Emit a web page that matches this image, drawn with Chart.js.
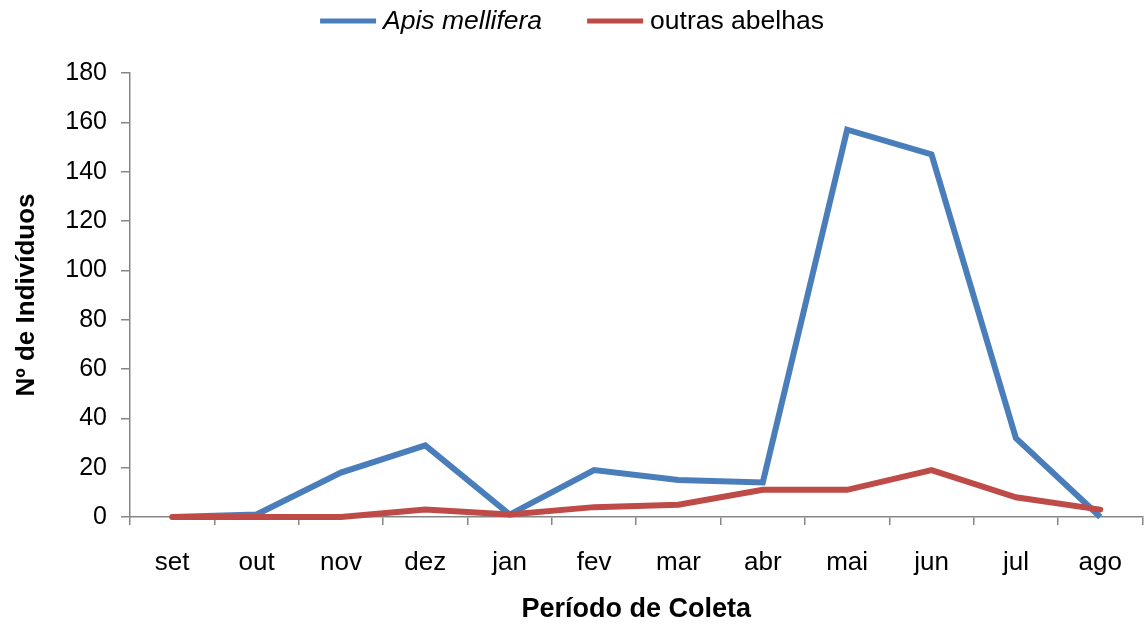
<!DOCTYPE html>
<html>
<head>
<meta charset="utf-8">
<script src="https://cdn.jsdelivr.net/npm/chart.js@4"></script>
<style>
  html, body { margin: 0; padding: 0; background: #fff; }
  #wrap { width: 1144px; height: 626px; }
</style>
</head>
<body>
<div id="wrap"><canvas id="bees-chart" width="1144" height="626"></canvas></div>
<script>
var months = ["set", "out", "nov", "dez", "jan", "fev", "mar", "abr", "mai", "jun", "jul", "ago"];
var apisMellifera = [0, 1, 18, 29, 1, 19, 15, 14, 157, 147, 32, 0];
var outrasAbelhas = [0, 0, 0, 3, 1, 4, 5, 11, 11, 19, 8, 3];
var yTicks = [0, 20, 40, 60, 80, 100, 120, 140, 160, 180];

var FONT = "'Liberation Sans', Arial, sans-serif";
var AXIS_GRAY = "#868686";

// legend drawn by hand so the first label can be italic
var legendPlugin = {
  id: "topLegend",
  afterDraw: function (chart) {
    var c = chart.ctx;
    var items = chart.data.datasets.map(function (ds, i) {
      return { text: ds.label, color: ds.borderColor, italic: i === 0 };
    });
    var lineLen = 56, gap = 7, itemGap = 45, y = 21;
    var total = 0;
    items.forEach(function (it, i) {
      c.font = (it.italic ? "italic " : "") + "26.5px " + FONT;
      it.w = c.measureText(it.text).width;
      total += lineLen + gap + it.w + (i > 0 ? itemGap : 0);
    });
    var x = (chart.width - total) / 2;
    c.save();
    c.textBaseline = "middle";
    items.forEach(function (it) {
      c.strokeStyle = it.color;
      c.lineWidth = 5;
      c.beginPath();
      c.moveTo(x, y);
      c.lineTo(x + lineLen, y);
      c.stroke();
      x += lineLen + gap;
      c.font = (it.italic ? "italic " : "") + "26.5px " + FONT;
      c.fillStyle = "#000";
      c.fillText(it.text, x, y + 1);
      x += it.w + itemGap;
    });
    c.restore();
  },
};

var ctx = document.getElementById("bees-chart").getContext("2d");
new Chart(ctx, {
  type: "line",
  data: {
    labels: months,
    datasets: [
      {
        label: "Apis mellifera",
        data: apisMellifera,
        borderColor: "#4A7EBB",
        borderWidth: 6,
        pointRadius: 0,
        tension: 0,
        clip: false,
        order: 1,
      },
      {
        label: "outras abelhas",
        data: outrasAbelhas,
        borderColor: "#BE4B48",
        borderWidth: 6,
        pointRadius: 0,
        tension: 0,
        clip: false,
        borderCapStyle: "round",
        order: 0,
      },
    ],
  },
  options: {
    responsive: false,
    animation: false,
    layout: { padding: { top: 73, right: 1, left: 0, bottom: 0 } },
    plugins: {
      legend: { display: false },
      tooltip: { enabled: false },
    },
    scales: {
      x: {
        type: "category",
        offset: true,
        grid: { offset: true, drawOnChartArea: false, color: AXIS_GRAY, tickLength: 8, lineWidth: 1.5 },
        border: { color: AXIS_GRAY, width: 1.5 },
        ticks: { color: "#000", font: { family: FONT, size: 26 }, padding: 22, maxRotation: 0, autoSkip: false },
        title: {
          display: true,
          text: "Período de Coleta",
          color: "#000",
          font: { family: FONT, size: 27, weight: "bold" },
          padding: { top: 0, bottom: 0 },
        },
        afterFit: function (scale) { scale.height = 109; },
      },
      y: {
        min: 0,
        max: 180,
        afterBuildTicks: function (scale) {
          scale.ticks = yTicks.map(function (v) { return { value: v }; });
        },
        grid: { drawOnChartArea: false, color: AXIS_GRAY, tickLength: 9, lineWidth: 1.5 },
        border: { color: AXIS_GRAY, width: 1.5 },
        ticks: { color: "#000", font: { family: FONT, size: 25 }, padding: 14 },
        title: {
          display: true,
          text: "Nº de Indivíduos",
          color: "#000",
          font: { family: FONT, size: 26, weight: "bold" },
          padding: { top: 11, bottom: 0 },
        },
        afterFit: function (scale) { scale.width = 130; },
      },
    },
  },
  plugins: [legendPlugin],
});
</script>
</body>
</html>
